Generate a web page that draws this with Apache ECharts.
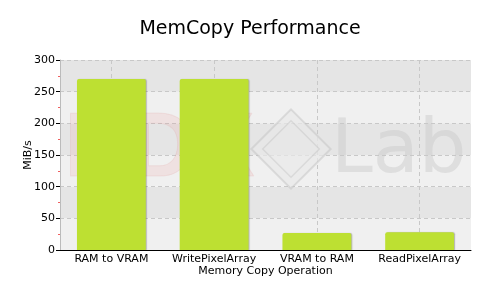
<!DOCTYPE html>
<html><head><meta charset="utf-8">
<script src="https://cdn.jsdelivr.net/npm/echarts@6/dist/echarts.min.js"></script>
<style>html,body{margin:0;padding:0;background:#fff}#c{width:500px;height:300px}</style>
</head><body><div id="c"></div>
<script>
const categories = ['RAM to VRAM', 'WritePixelArray', 'VRAM to RAM', 'ReadPixelArray'];
const values = [270, 270, 27, 28];
const yTicks = [0, 50, 100, 150, 200, 250, 300];

const chart = echarts.init(document.getElementById('c'));
const font = 'DejaVu Sans';
chart.setOption({
  animation: false,
  backgroundColor: '#fff',
  title: {text: 'MemCopy Performance', left: 'center', top: 15,
    textStyle: {fontFamily: font, fontSize: 19, fontWeight: 'normal', color: '#000'}},
  grid: {left: 60, right: 29, top: 60, bottom: 50},
  graphic: [
    {type: 'text', left: 64, top: 106, z: 1, silent: true,
      style: {text: 'HDX', fontFamily: 'Liberation Sans', fontWeight: 'bold', fontSize: 90,
        fill: 'rgba(235,150,150,0.16)', stroke: 'rgba(220,140,140,0.15)', lineWidth: 1}},
    {type: 'rect', shape: {x: -28, y: -28, width: 56, height: 56}, x: 291, y: 149, rotation: Math.PI / 4, z: 1, silent: true,
      style: {fill: 'rgba(232,232,232,0.7)', stroke: 'rgba(190,190,190,0.45)', lineWidth: 2}},
    {type: 'rect', shape: {x: -20, y: -20, width: 40, height: 40}, x: 291, y: 149, rotation: Math.PI / 4, z: 1, silent: true,
      style: {fill: 'none', stroke: 'rgba(195,195,195,0.45)', lineWidth: 1.5}},
    {type: 'text', left: 331, top: 115, z: 1, silent: true,
      style: {text: 'Lab', fontFamily: font, fontSize: 75, fill: 'rgba(200,200,200,0.45)'}}
  ],
  xAxis: [{
    type: 'category', data: categories,
    name: 'Memory Copy Operation', nameLocation: 'middle', nameGap: 16, nameMoveOverlap: false,
    nameTextStyle: {fontFamily: font, fontSize: 11, color: '#000', verticalAlign: 'top'},
    axisLine: {lineStyle: {color: '#000', width: 1}},
    axisTick: {alignWithLabel: true, length: 3, lineStyle: {color: '#999'}},
    axisLabel: {interval: 0, fontFamily: font, fontSize: 11, color: '#000', margin: 4},
    splitLine: {show: false}
  }, {
    type: 'value', min: 0, max: 8, interval: 1, show: true, position: 'top',
    axisLine: {show: false}, axisTick: {show: false}, axisLabel: {show: false},
    splitLine: {show: true, lineStyle: {color: ['transparent', '#c8c8c8'], type: [4, 3]}}
  }],
  yAxis: {
    type: 'value', min: 0, max: 300, interval: 50,
    name: 'MiB/s', nameLocation: 'middle', nameGap: 26, nameMoveOverlap: false,
    nameTextStyle: {fontFamily: font, fontSize: 11, color: '#000'},
    axisLine: {show: true, lineStyle: {color: '#bbb'}},
    axisTick: {show: true, length: 4, lineStyle: {color: '#000'}},
    minorTick: {show: true, splitNumber: 2, length: 2, lineStyle: {color: '#f06060'}},
    axisLabel: {fontFamily: font, fontSize: 11, color: '#000', margin: 5,
      formatter: v => yTicks.includes(v) ? String(v) : ''},
    splitLine: {show: true, lineStyle: {color: '#c8c8c8', type: [4, 3]}},
    splitArea: {show: true, areaStyle: {color: ['#f0f0f0', '#e5e5e5']}}
  },
  series: [{
    type: 'bar', data: values, barWidth: '67%', z: 3,
    itemStyle: {color: '#bde032', borderRadius: [2, 2, 0, 0],
      shadowColor: 'rgba(0,0,0,0.25)', shadowOffsetX: 1, shadowBlur: 1}
  }]
});
</script></body></html>
